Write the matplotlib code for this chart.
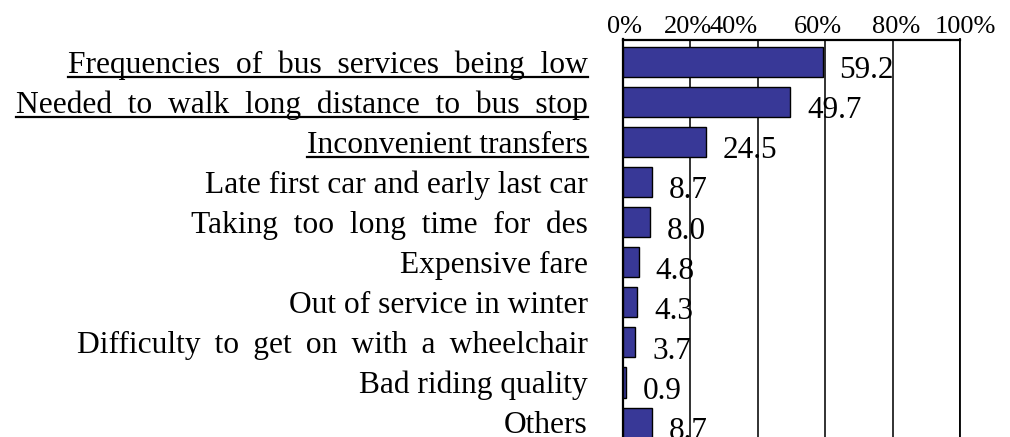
import matplotlib
matplotlib.use("Agg")
import matplotlib.pyplot as plt
from matplotlib.lines import Line2D
from matplotlib.transforms import ScaledTranslation

# --- data ---
reasons = [
    "Frequencies  of  bus  services  being  low",
    "Needed  to  walk  long  distance  to  bus  stop",
    "Inconvenient transfers",
    "Late first car and early last car",
    "Taking  too  long  time  for  des",
    "Expensive fare",
    "Out of service in winter",
    "Difficulty \u2009to \u2009get \u2009on \u2009with \u2009a \u2009wheelchair",
    "Bad riding quality",
    "Others",
]
shares = [59.2, 49.7, 24.5, 8.7, 8.0, 4.8, 4.3, 3.7, 0.9, 8.7]
underlined = [True, True, True, False, False, False, False, False, False, False]
tick_values = [0, 20, 40, 60, 80, 100]
tick_labels = ["0%", "20%", "40%", "60%", "80%", "100%"]

plt.rcParams["font.family"] = ["Liberation Serif", "DejaVu Serif"]
FS_CAT = 22.7
FS_VAL = 22.5
FS_TICK = 19
BAR_COLOR = "#383897"

fig = plt.figure(figsize=(10.1, 4.37), dpi=100)
ax = fig.add_axes([623 / 1010, 0.0, 337 / 1010, 1 - 39.5 / 437])

y = list(range(len(reasons)))
ax.barh(y, shares, height=0.75, color=BAR_COLOR, edgecolor="black",
        linewidth=1.0, zorder=3)

ax.set_xlim(0, 100)
ax.set_ylim(9.36, -0.555)

ax.set_xticks(tick_values)
ax.set_xticklabels(tick_labels, fontsize=FS_TICK)
ax.xaxis.tick_top()
ax.tick_params(axis="x", length=0, pad=1)
ax.set_yticks([])
ax.grid(axis="x", color="#222222", linewidth=1.3, zorder=0)
ax.set_axisbelow(True)

for side in ["left", "top"]:
    ax.spines[side].set_linewidth(1.6)
ax.spines["right"].set_linewidth(1.3)
ax.spines["bottom"].set_visible(False)

# the percent labels sit a little off their gridlines in the original
label_shift_px = [2, -2.5, -24, -7, 4, 5]
for lab, dx in zip(ax.get_xticklabels(), label_shift_px):
    lab.set_transform(lab.get_transform() + ScaledTranslation(dx / 100, 0, fig.dpi_scale_trans))

# category labels, right aligned left of the axis
texts = []
for i, name in enumerate(reasons):
    t = ax.text(-0.105, i + 0.27, name, fontsize=FS_CAT, ha="right", va="baseline",
                transform=ax.get_yaxis_transform(), clip_on=False)
    texts.append(t)

# value labels
for i, v in enumerate(shares):
    ax.annotate(f"{v:.1f}", (v, i + 0.41), xytext=(12, 0), textcoords="offset points",
                fontsize=FS_VAL, ha="left", va="baseline", annotation_clip=False)

# underline the first three labels
fig.canvas.draw()
renderer = fig.canvas.get_renderer()
inv = fig.transFigure.inverted()
for i, (t, u) in enumerate(zip(texts, underlined)):
    if not u:
        continue
    bb = t.get_window_extent(renderer)
    _, base_y = ax.transData.transform((0, i + 0.27))
    uy = base_y - 4
    (x0, y0) = inv.transform((bb.x0, uy))
    (x1, _) = inv.transform((bb.x1, uy))
    fig.add_artist(Line2D([x0, x1], [y0, y0], color="black", linewidth=1.6,
                          transform=fig.transFigure))

fig.savefig("out.png", dpi=100)
